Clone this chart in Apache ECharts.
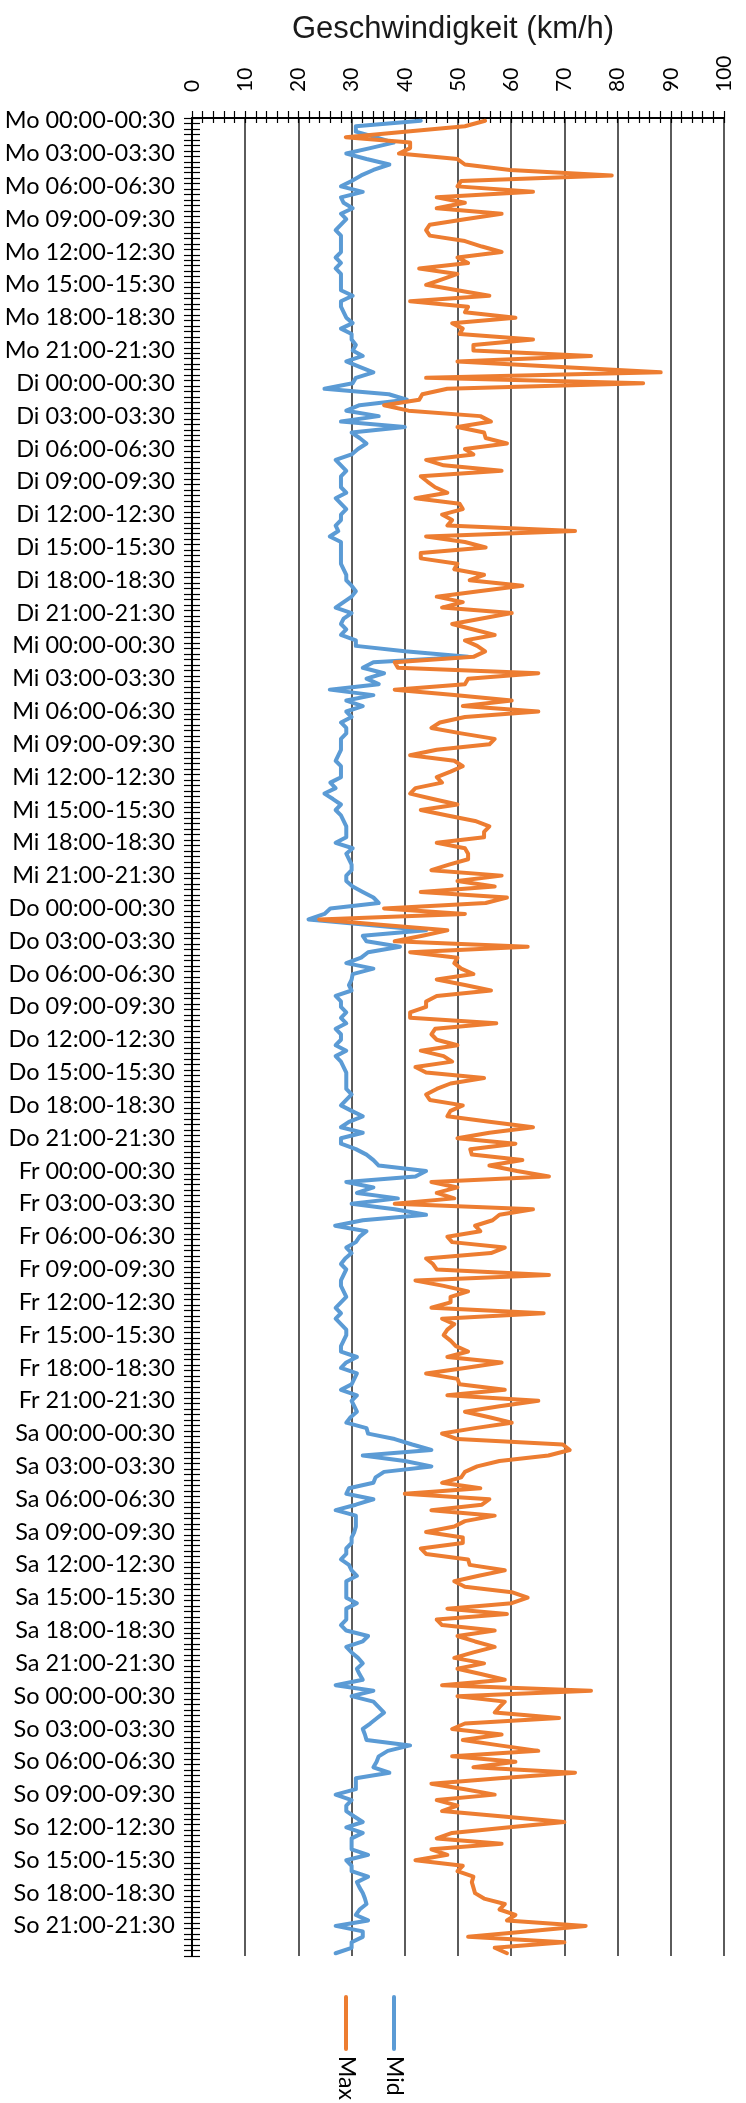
<!DOCTYPE html>
<html><head><meta charset="utf-8">
<script src="https://cdn.jsdelivr.net/npm/echarts@6/dist/echarts.min.js"></script>
<style>html,body{margin:0;padding:0;background:#fff}#c{width:746px;height:2103px}</style>
</head><body><div id="c"></div>
<script>
const dayNames = ['Mo','Di','Mi','Do','Fr','Sa','So'];
const valueTicks = [0,10,20,30,40,50,60,70,80,90,100];
const seriesNames = ['Mid','Max'];

const midMo = [43.0,30.8,30.8,34.5,37.9,33.5,29.0,32.8,37.1,34.1,31.8,30.0,28.0,32.1,28.0,28.5,30.2,28.0,29.0,28.0,27.0,28.0,28.0,28.0,28.0,27.0,28.0,27.0,28.0,28.0,28.0,28.0,30.2,28.0,28.0,28.5,29.0,30.2,28.0,30.0,30.0,30.8,30.2,32.1,29.0,31.5,34.1,30.8];
const midDi = [30.2,24.9,37.0,40.4,31.5,29.0,35.1,28.0,40.0,30.0,31.5,32.8,31.2,30.0,27.0,28.0,29.0,28.0,28.0,28.0,29.0,27.0,28.0,29.0,28.0,28.0,27.0,27.5,25.9,28.0,28.0,28.0,28.0,28.0,28.5,29.0,29.0,30.0,30.8,30.0,28.5,27.0,30.0,28.5,28.0,29.0,28.0,30.8];
const midMi = [30.8,40.0,51.9,34.1,32.1,36.1,32.8,35.1,25.9,34.1,29.0,32.1,29.0,30.0,28.0,29.0,29.0,28.0,28.0,28.0,27.5,27.0,28.0,28.0,28.0,26.0,27.0,24.9,26.5,28.0,27.0,28.0,28.5,29.0,29.0,29.0,27.0,30.2,29.0,29.5,30.0,30.0,29.0,29.0,30.2,32.1,34.1,35.1];
const midDo = [26.0,24.9,21.9,32.8,44.0,32.1,32.8,39.1,33.1,31.8,29.0,34.1,30.2,30.0,29.5,30.0,27.0,28.0,28.0,29.0,28.0,29.0,27.0,28.0,28.0,27.0,29.0,27.0,28.0,28.5,29.0,29.0,29.0,29.0,30.0,29.0,28.0,30.0,32.1,29.5,28.0,32.1,28.0,28.0,30.8,32.8,34.1,35.1];
const midFr = [44.0,42.0,29.0,34.1,31.0,38.7,30.0,38.1,44.0,32.1,26.9,32.8,31.5,30.8,29.0,30.0,28.8,28.0,29.0,28.5,28.0,28.0,28.5,29.0,28.0,27.0,28.0,27.0,28.0,29.0,29.0,28.5,28.0,28.0,31.0,29.0,28.0,31.0,30.5,30.0,28.0,31.0,30.0,30.5,31.0,29.8,29.0,32.8];
const midSa = [33.1,38.1,41.4,45.0,32.1,40.0,45.0,36.1,34.5,34.1,29.5,29.0,34.1,30.8,27.0,30.8,30.8,30.8,30.5,30.0,30.0,29.0,29.0,28.0,29.5,30.0,31.0,29.0,29.0,29.0,29.0,31.0,29.0,29.0,29.0,28.0,29.0,33.1,32.1,29.0,30.0,31.2,32.1,31.0,31.5,32.1,27.0,34.1];
const midSo = [30.0,34.1,35.1,36.1,34.8,33.5,32.1,32.5,32.8,41.0,36.8,35.1,34.7,34.1,37.1,30.8,30.8,30.8,27.0,30.0,29.0,29.0,30.5,32.1,29.0,32.1,30.0,30.0,30.0,33.1,29.0,30.0,30.0,33.1,31.0,31.5,32.1,32.5,32.8,31.5,30.8,33.1,27.0,32.1,32.1,30.0,30.0,27.0];

const maxMo = [55.1,51.3,40.0,28.9,41.0,41.0,38.9,49.9,51.3,59.8,78.9,50.6,49.9,64.1,46.0,51.3,46.0,58.2,51.3,44.7,44.0,44.7,51.3,54.5,58.2,49.9,51.9,42.7,49.9,47.0,44.0,49.9,55.9,41.0,51.9,51.3,60.8,48.9,50.9,50.3,64.1,52.9,52.9,75.0,49.9,69.4,88.1,44.0];
const maxDi = [84.8,48.0,43.3,42.7,36.1,40.7,54.2,56.2,49.9,54.9,55.2,59.2,51.3,52.9,44.0,47.3,58.2,43.0,44.3,45.7,48.0,42.0,50.3,50.9,47.0,48.9,48.0,72.0,44.0,51.3,55.2,43.0,43.0,49.9,49.3,54.9,52.2,62.1,53.9,46.0,50.9,47.0,60.1,54.5,48.9,52.9,56.9,51.3];
const maxMi = [53.6,55.1,52.9,38.1,38.7,65.1,51.9,51.3,38.1,49.3,60.1,50.9,65.1,51.3,46.6,45.0,50.6,56.9,55.9,46.0,41.0,49.3,50.9,48.6,46.0,47.0,42.0,41.0,45.3,49.9,43.0,48.0,53.2,55.9,54.9,54.9,46.0,51.3,51.9,51.9,48.3,45.0,58.2,49.9,56.9,43.0,59.2,55.2];
const maxDo = [36.1,51.3,23.9,35.4,48.0,43.3,38.1,63.1,41.0,49.9,49.3,50.6,52.9,46.0,51.3,56.2,46.0,44.0,44.0,41.0,41.0,57.2,45.7,45.0,46.0,49.9,43.0,47.3,48.9,42.0,44.0,54.9,48.6,46.0,44.0,44.7,50.9,48.6,48.0,55.9,64.1,55.9,49.9,60.8,52.3,52.6,62.1,55.9];
const maxFr = [61.1,67.1,45.0,49.9,46.0,49.3,38.1,64.1,57.8,56.5,53.2,54.2,48.0,48.9,58.8,56.2,44.0,45.3,46.0,67.1,42.0,47.3,51.9,48.6,48.6,45.0,66.1,47.0,49.3,48.0,47.3,48.6,49.6,51.9,48.0,58.2,51.3,44.0,49.9,50.3,58.8,48.0,65.1,57.8,51.3,55.9,60.1,53.2];
const maxSa = [47.0,49.9,69.7,71.0,67.0,57.8,53.6,51.3,50.6,47.0,54.2,40.0,55.9,54.5,45.0,56.9,51.3,49.3,44.0,50.9,50.9,43.0,44.0,51.9,52.2,58.8,53.9,49.3,51.3,60.1,63.1,60.1,48.0,59.2,46.0,47.0,56.9,49.9,53.2,56.9,52.9,49.3,54.9,49.9,54.5,58.8,47.0,75.0];
const maxSo = [49.9,58.8,57.8,56.9,69.0,51.3,48.9,58.2,50.9,57.8,65.1,48.9,60.8,52.9,72.0,57.8,45.0,51.3,56.9,46.0,49.9,47.0,58.5,70.0,59.2,48.9,46.0,58.2,45.0,48.0,42.0,50.9,49.9,52.9,52.6,52.9,53.2,54.9,58.8,57.8,60.8,59.2,74.0,62.8,51.9,70.0,56.9,59.2];

const midValues = [].concat(midMo, midDi, midMi, midDo, midFr, midSa, midSo);
const maxValues = [].concat(maxMo, maxDi, maxMi, maxDo, maxFr, maxSa, maxSo);

function pad(n){ return String(n).padStart(2,'0'); }
const categories = [];
dayNames.forEach(d => {
  for (let s = 0; s < 48; s++) {
    const h = Math.floor(s/2), m = (s%2)*30, e = s+1;
    const h2 = Math.floor(e/2) % 24, m2 = (e%2)*30;
    categories.push(d + ' ' + pad(h) + ':' + pad(m) + '-' + pad(h2) + ':' + pad(m2));
  }
});

const BLUE = '#5B9BD5', ORANGE = '#ED7D31';
const LABEL_FONT = 'Lato';
const tickStyle = { color: '#000', width: 1.2 };

const chart = echarts.init(document.getElementById('c'), null, { renderer: 'canvas' });
chart.setOption({
  animation: false,
  backgroundColor: '#fff',
  title: {
    text: 'Geschwindigkeit (km/h)',
    left: 287, top: 9,
    textStyle: { fontFamily: 'Liberation Sans', fontSize: 31, fontWeight: 'normal', color: '#1a1a1a' }
  },
  grid: { left: 192, right: 22, top: 118, bottom: 147, containLabel: false },
  xAxis: [{
    type: 'value', position: 'top', min: 0, max: 100, interval: 10,
    axisLine: { show: true, lineStyle: { color: '#000', width: 2 } },
    axisTick: { show: true, length: 7, lineStyle: tickStyle },
    minorTick: { show: true, splitNumber: 5, length: 7, lineStyle: tickStyle },
    axisLabel: { rotate: -90, margin: 26, fontFamily: LABEL_FONT, fontSize: 21, color: '#000',
      formatter: v => valueTicks.indexOf(v) >= 0 ? String(v) : '' },
    splitLine: { show: true, lineStyle: { color: '#333', width: 1.6 } }
  }, {
    type: 'value', position: 'top', min: 0, max: 100, interval: 10, offset: 0,
    axisLine: { show: false },
    axisTick: { show: true, inside: true, length: 5, lineStyle: tickStyle },
    minorTick: { show: true, splitNumber: 5, length: 5, lineStyle: tickStyle },
    axisLabel: { show: false }, splitLine: { show: false }
  }],
  yAxis: [{
    type: 'category', data: categories, inverse: true, position: 'left', boundaryGap: true,
    axisLine: { show: true, lineStyle: { color: '#000', width: 2 } },
    axisTick: { show: true, interval: 0, length: 8, lineStyle: tickStyle },
    axisLabel: { interval: 5, margin: 17, fontFamily: LABEL_FONT, fontSize: 23.5, color: '#000' },
    splitLine: { show: false }
  }, {
    type: 'category', data: categories, inverse: true, position: 'left', offset: 0, boundaryGap: true,
    axisLine: { show: false },
    axisTick: { show: true, inside: true, interval: 0, length: 8, lineStyle: tickStyle },
    axisLabel: { show: false }, splitLine: { show: false }
  }],
  series: [{
    name: seriesNames[0], type: 'line', xAxisIndex: 0, yAxisIndex: 0, data: midValues,
    symbol: 'none', smooth: false, z: 3,
    lineStyle: { color: BLUE, width: 4, join: 'round', cap: 'round' }
  }, {
    name: seriesNames[1], type: 'line', xAxisIndex: 0, yAxisIndex: 0, data: maxValues,
    symbol: 'none', smooth: false, z: 4,
    lineStyle: { color: ORANGE, width: 4, join: 'round', cap: 'round' }
  }],
  graphic: [
    { type: 'line', shape: { x1: 346, y1: 1997, x2: 346, y2: 2049 }, style: { stroke: ORANGE, lineWidth: 4, lineCap: 'round' } },
    { type: 'text', x: 346, y: 2056, rotation: -Math.PI/2,
      style: { text: seriesNames[1], fontFamily: LABEL_FONT, fontSize: 23, fill: '#000', textAlign: 'left', textVerticalAlign: 'middle' } },
    { type: 'line', shape: { x1: 394, y1: 1997, x2: 394, y2: 2049 }, style: { stroke: BLUE, lineWidth: 4, lineCap: 'round' } },
    { type: 'text', x: 394, y: 2056, rotation: -Math.PI/2,
      style: { text: seriesNames[0], fontFamily: LABEL_FONT, fontSize: 23, fill: '#000', textAlign: 'left', textVerticalAlign: 'middle' } }
  ]
});
</script></body></html>
